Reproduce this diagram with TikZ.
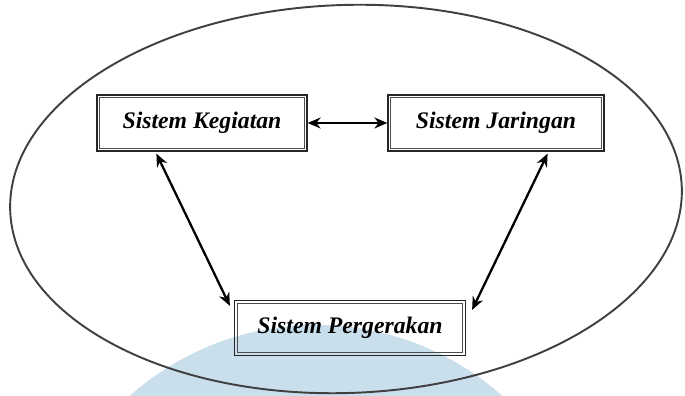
\documentclass[tikz,border=0pt]{standalone}
\usepackage{fontspec}
\setmainfont{Liberation Serif}
\usetikzlibrary{arrows.meta}
\definecolor{wmblue}{HTML}{C9DFEC}

\begin{document}
\begin{tikzpicture}[
        sysbox/.style={draw=black!85, line width=0.7pt,
            minimum height=1.12cm, inner sep=0pt,
            font=\fontsize{13.5}{15}\selectfont\bfseries\itshape},
        rim/.style={draw=black!70, line width=0.6pt},
        link/.style={<->, >={Stealth[length=2.6mm,width=2.2mm]}, line width=1.3pt}
    ]
        \useasboundingbox (0,0) rectangle (13.7,7.92);
        \begin{scope}
            \clip (0,0) rectangle (13.7,7.92);
            % watermark behind everything
            \fill[wmblue] (6.32,-4.18) circle (5.6);
        \end{scope}
        % outer system ellipse
        \draw[line width=1.1pt, black!75] (6.92,3.94) ellipse[x radius=6.72, y radius=3.88, rotate=2];
        \node[sysbox, minimum width=4.2cm] (keg) at (4.04,5.46) {Sistem Kegiatan};
        \node[sysbox, minimum width=4.32cm] (jar) at (9.92,5.46) {Sistem Jaringan};
        \node[sysbox, minimum width=4.62cm, minimum height=1.1cm] (perg) at (7.0,1.36) {Sistem Pergerakan};
        % inner line of the double frames
        \foreach \b in {keg,jar,perg}
            \draw[rim] ([shift={(2pt,2pt)}]\b.south west) rectangle ([shift={(-2pt,-2pt)}]\b.north east);
        \draw[link] (keg.east) -- (jar.west);
        \draw[link] ([xshift=1.2cm,yshift=-0.04cm]keg.south west) -- ([xshift=-0.08cm,yshift=-0.12cm]perg.north west);
        \draw[link] ([xshift=-1.14cm,yshift=-0.04cm]jar.south east) -- ([xshift=0.12cm,yshift=-0.2cm]perg.north east);
    \end{tikzpicture}
\end{document}
